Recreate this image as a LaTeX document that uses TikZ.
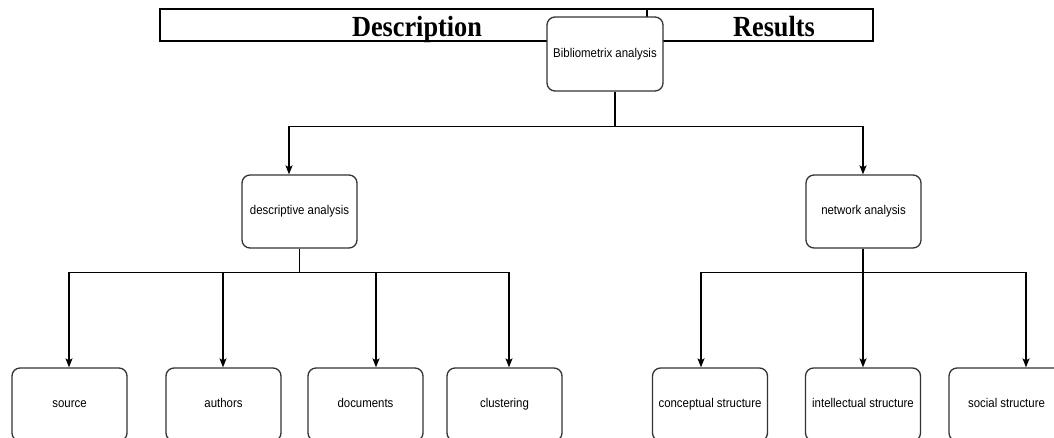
\documentclass[tikz,border=0pt]{standalone}
\usepackage{fontspec}
\setmainfont{Liberation Serif}
\newfontfamily\boxfont[FakeStretch=0.9]{Liberation Sans}
\newfontfamily\hdrfont[FakeStretch=0.9]{Liberation Serif}
\usetikzlibrary{arrows.meta,calc}
\definecolor{boxline}{HTML}{333333}
\tikzset{
  box/.style={draw=boxline, line width=1.3pt, rounded corners=8pt, fill=white,
    minimum width=115pt, minimum height=73pt, inner sep=0pt,
    text height=9.2pt, text depth=2.6pt,
    font=\boxfont\fontsize{12.7}{14}\selectfont},
  hdr/.style={anchor=base, inner sep=0pt, font=\hdrfont\bfseries\fontsize{29.2}{32}\selectfont},
  conn/.style={draw=black, line width=1.2pt},
  arr/.style={conn, -{Stealth[length=9pt, width=7pt, inset=2pt]}},
  hline/.style={draw=black, line width=2.2pt}
}
\begin{document}
\begin{tikzpicture}[x=1pt, y=-1pt]
\clip (0,0) rectangle (1054,437);
\fill[white] (0,0) rectangle (1054,437);
% header table
\coordinate (hNW) at (160,9);
\coordinate (hSE) at (873,41);
\coordinate (dTop) at (647,9);
\coordinate (dBot) at (647,41);
\draw[hline] (hNW) rectangle (hSE);
\draw[hline] (dTop) -- (dBot);
\node[hdr] (tdesc) at (417,36) {Description};
\node[hdr] (tres) at (774,36) {Results};
% nodes
\node[box, minimum width=116pt, minimum height=74pt] (bib) at (605,54) {Bibliometrix analysis};
\node[box] (desc) at (299.5,211.5) {descriptive analysis};
\node[box] (net) at (863.5,211.5) {network analysis};
\node[box] (source) at (69.5,404.5) {source};
\node[box] (authors) at (223.5,404.5) {authors};
\node[box] (documents) at (365.5,404.5) {documents};
\node[box] (clustering) at (504.5,404.5) {clustering};
\node[box] (concept) at (710,404.5) {conceptual structure};
\node[box] (intel) at (863,404.5) {intellectual structure};
\node[box] (social) at (1006.5,404.5) {social structure};
% connectors
\draw[arr] ([xshift=10pt]bib.south) -- ++(0,35) -| ([xshift=-10.5pt]desc.north);
\draw[arr] ([xshift=10pt]bib.south) -- ++(0,35) -| ([xshift=-0.5pt]net.north);
\draw[arr] (desc.south) -- ++(0,24) -| ([xshift=-0.5pt]source.north);
\draw[arr] (desc.south) -- ++(0,24) -| ([xshift=-0.5pt]authors.north);
\draw[arr] (desc.south) -- ++(0,24) -| ([xshift=10.5pt]documents.north);
\draw[arr] (desc.south) -- ++(0,24) -| ([xshift=4.5pt]clustering.north);
\draw[arr] ([xshift=-0.5pt]net.south) -- ++(0,24) -| ([xshift=-9pt]concept.north);
\draw[arr] ([xshift=-0.5pt]net.south) -- ++(0,24) -| (intel.north);
\draw[arr] ([xshift=-0.5pt]net.south) -- ++(0,24) -| ([xshift=19.5pt]social.north);
\end{tikzpicture}
\end{document}
